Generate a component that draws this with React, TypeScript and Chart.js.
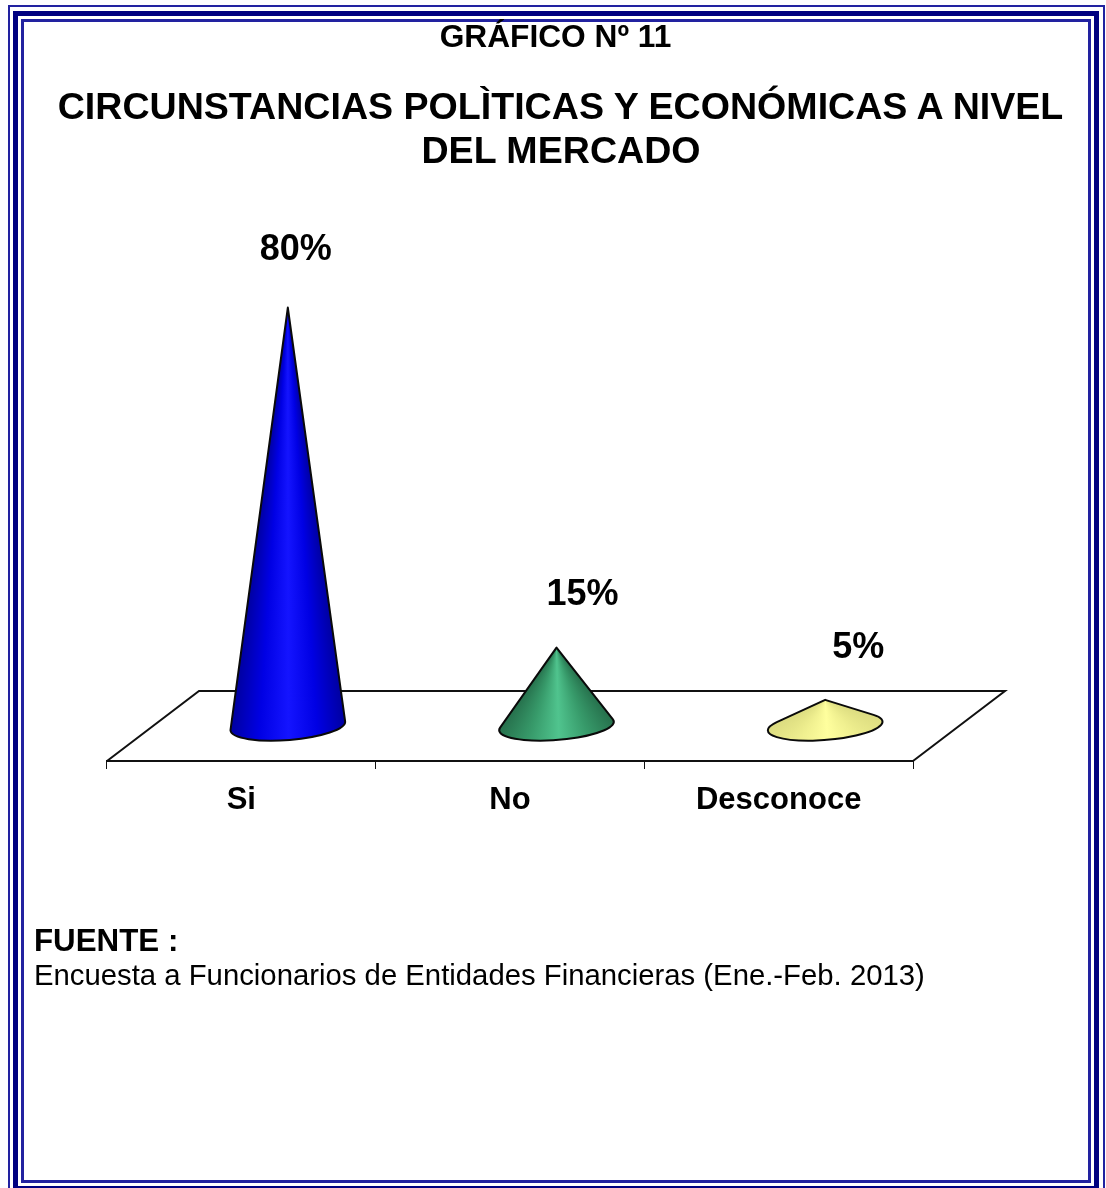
import React, { useEffect, useRef } from "react";
import { Chart, registerables } from "chart.js";

Chart.register(...registerables);

const categories = ["Si", "No", "Desconoce"];
const percentages = [80, 15, 5];
const valueLabels = ["80%", "15%", "5%"];
const coneShades = [
  ["#0000a0", "#0000e4", "#1414ff", "#0000e4", "#0000a0"],
  ["#26704c", "#379a6a", "#50c48e", "#379a6a", "#26704c"],
  ["#dcdc80", "#f0f090", "#ffff9e", "#f0f090", "#dcdc80"],
];

const NAVY = "#000080";
const FRAME_THIN = "#2222a0";
const FONT = '"Liberation Sans", Arial, sans-serif';
const FLOOR_DX = 92;
const FLOOR_DY = 70;
const CONE_DX = 46.5;
const CONE_DY = 35;
const RX = 57.5;
const RY = 14;
const TILT = (-4.5 * Math.PI) / 180;
const LABEL_SHIFT = [
  [8, -58],
  [26, -52],
  [33, -52],
];

// Rim angles where the lines drawn from the apex touch the base ellipse.
function tangentAngles(cx: number, cy: number, ax: number, ay: number) {
  const dx = ax - cx;
  const dy = ay - cy;
  const lx = (dx * Math.cos(TILT) + dy * Math.sin(TILT)) / RX;
  const ly = (-dx * Math.sin(TILT) + dy * Math.cos(TILT)) / RY;
  const phi = Math.atan2(ly, lx);
  const spread = Math.acos(1 / Math.hypot(lx, ly));
  return [phi + spread, phi - spread + Math.PI * 2];
}

function rimPoint(cx: number, cy: number, t: number) {
  const x = RX * Math.cos(t);
  const y = RY * Math.sin(t);
  return [cx + x * Math.cos(TILT) - y * Math.sin(TILT), cy + x * Math.sin(TILT) + y * Math.cos(TILT)];
}

const conePlugin = {
  id: "cones",
  beforeDatasetsDraw(chart: any) {
    const { ctx, chartArea: a } = chart;
    ctx.save();
    ctx.strokeStyle = "#111";
    ctx.lineWidth = 2;
    ctx.lineJoin = "miter";
    ctx.beginPath();
    ctx.moveTo(a.left, a.bottom);
    ctx.lineTo(a.left + FLOOR_DX, a.bottom - FLOOR_DY);
    ctx.lineTo(a.right + FLOOR_DX, a.bottom - FLOOR_DY);
    ctx.lineTo(a.right, a.bottom);
    ctx.stroke();
    ctx.restore();
  },
  afterDatasetsDraw(chart: any) {
    const { ctx, chartArea: a } = chart;
    const bars = chart.getDatasetMeta(0).data;
    bars.forEach((bar: any, i: number) => {
      const cx = bar.x + CONE_DX;
      const cy = a.bottom - CONE_DY;
      const ay = bar.y - CONE_DY;
      const [t0, t1] = tangentAngles(cx, cy, cx, ay);
      const [rx, ry] = rimPoint(cx, cy, t0);
      const [lx, ly] = rimPoint(cx, cy, t1);
      // Shading runs around the apex, so the dark edges follow the silhouette.
      const start = Math.atan2(ry - ay, rx - cx);
      const end = Math.atan2(ly - ay, lx - cx);
      const span = (end - start) / (Math.PI * 2);
      const g = ctx.createConicGradient(start, cx, ay);
      const shades = coneShades[i];
      shades.forEach((c: string, k: number) => g.addColorStop((span * k) / (shades.length - 1), c));
      ctx.save();
      ctx.beginPath();
      ctx.moveTo(cx, ay);
      ctx.ellipse(cx, cy, RX, RY, TILT, t0, t1);
      ctx.closePath();
      ctx.fillStyle = g;
      ctx.fill();
      ctx.strokeStyle = "#0a0a0a";
      ctx.lineWidth = 2;
      ctx.lineJoin = "round";
      ctx.stroke();
      ctx.fillStyle = "#000";
      ctx.font = `bold 36px ${FONT}`;
      ctx.textAlign = "center";
      ctx.textBaseline = "middle";
      ctx.fillText(valueLabels[i], cx + LABEL_SHIFT[i][0], ay + LABEL_SHIFT[i][1]);
      ctx.restore();
    });
  },
};

const textStyle = (left: number, top: number, size: number, bold: boolean, width?: number): React.CSSProperties => ({
  position: "absolute",
  left,
  top,
  width,
  fontFamily: FONT,
  fontSize: size,
  fontWeight: bold ? 700 : 400,
  lineHeight: 1,
  whiteSpace: "nowrap",
  textAlign: width ? "center" : "left",
  color: "#000",
});

// One ring of the page frame, given by its outer edges.
const frame = (l: number, t: number, r: number, b: number, w: number, c: string): React.CSSProperties => ({
  position: "absolute",
  left: l,
  top: t,
  width: r - l,
  height: b - t,
  border: `${w}px solid ${c}`,
  boxSizing: "border-box",
});

export default function App() {
  const ref = useRef<HTMLCanvasElement>(null);
  useEffect(() => {
    const chart = new Chart(ref.current!, {
      type: "bar",
      data: {
        labels: categories,
        datasets: [{ data: percentages, backgroundColor: "rgba(0,0,0,0)", borderWidth: 0 }],
      },
      plugins: [conePlugin],
      options: {
        animation: false,
        responsive: false,
        layout: { padding: { left: 107, right: 193, top: 238, bottom: 367 } },
        plugins: { legend: { display: false }, tooltip: { enabled: false } },
        scales: {
          y: { display: false, min: 0, max: 100 },
          x: {
            afterFit: (s: any) => {
              s.height = 60;
            },
            border: { color: "#111", width: 2 },
            grid: { color: "#111", lineWidth: 1, tickLength: 8, drawOnChartArea: false, offset: true },
            ticks: { color: "#000", padding: 13, font: { family: FONT, size: 31, weight: "bold" }, maxRotation: 0 },
          },
        },
      },
    } as any);
    return () => chart.destroy();
  }, []);

  return (
    <div style={{ position: "absolute", left: 0, top: 0, width: 1106, height: 1188, overflow: "hidden", background: "#fff" }}>
      <div style={frame(8, 5, 1105, 1200, 2, FRAME_THIN)} />
      <div style={frame(13, 11, 1099, 1191, 5, NAVY)} />
      <div style={frame(21, 19, 1091, 1183, 3, FRAME_THIN)} />
      <canvas ref={ref} width={1106} height={1188} style={{ position: "absolute", left: 0, top: 0 }} />
      <div style={textStyle(0, 21, 31.7, true, 1111)}>GRÁFICO Nº 11</div>
      <div style={textStyle(0, 88, 37.6, true, 1121)}>CIRCUNSTANCIAS POLÌTICAS Y ECONÓMICAS A NIVEL</div>
      <div style={textStyle(0, 132, 37.6, true, 1122)}>DEL MERCADO</div>
      <div style={textStyle(34, 925, 31.3, true)}>FUENTE :</div>
      <div style={textStyle(34, 960, 29.3, false)}>Encuesta a Funcionarios de Entidades Financieras (Ene.-Feb. 2013)</div>
    </div>
  );
}
